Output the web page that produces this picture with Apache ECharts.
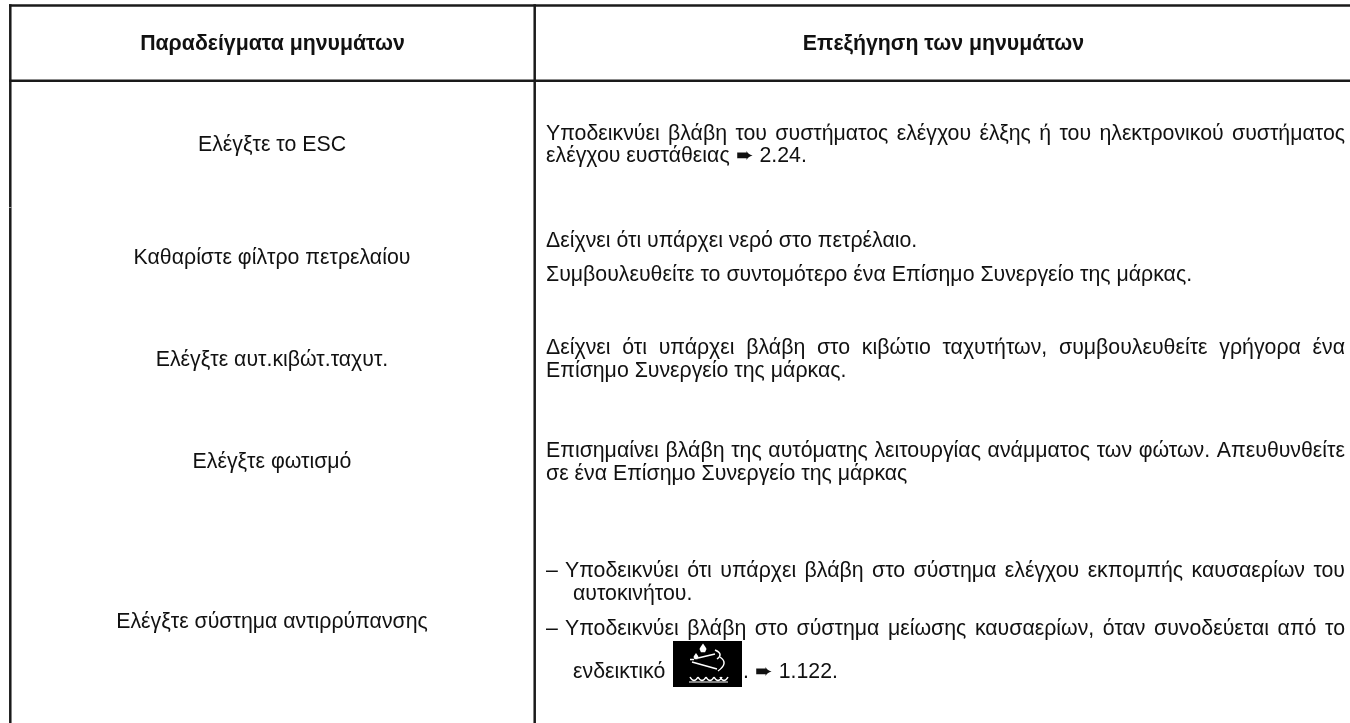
<!DOCTYPE html>
<html>
<head>
<meta charset="utf-8">
<style>html,body{margin:0;padding:0;background:#fff}#main{width:1350px;height:723px}</style>
<script src="https://cdn.jsdelivr.net/npm/echarts@6/dist/echarts.min.js"></script>
</head>
<body>
<div id="main"></div>
<script>
var headers = ['Παραδείγματα μηνυμάτων', 'Επεξήγηση των μηνυμάτων'];
var messages = ['Ελέγξτε το ESC', 'Καθαρίστε φίλτρο πετρελαίου', 'Ελέγξτε αυτ.κιβώτ.ταχυτ.', 'Ελέγξτε φωτισμό', 'Ελέγξτε σύστημα αντιρρύπανσης'];
var explain = [
	'Υποδεικνύει βλάβη του συστήματος ελέγχου έλξης ή του ηλεκτρονικού συστήματος',
	'ελέγχου ευστάθειας ➨ 2.24.',
	'Δείχνει ότι υπάρχει νερό στο πετρέλαιο.',
	'Συμβουλευθείτε το συντομότερο ένα Επίσημο Συνεργείο της μάρκας.',
	'Δείχνει ότι υπάρχει βλάβη στο κιβώτιο ταχυτήτων, συμβουλευθείτε γρήγορα ένα',
	'Επίσημο Συνεργείο της μάρκας.',
	'Επισημαίνει βλάβη της αυτόματης λειτουργίας ανάμματος των φώτων. Απευθυνθείτε',
	'σε ένα Επίσημο Συνεργείο της μάρκας',
	'Υποδεικνύει ότι υπάρχει βλάβη στο σύστημα ελέγχου εκπομπής καυσαερίων του',
	'αυτοκινήτου.',
	'Υποδεικνύει βλάβη στο σύστημα μείωσης καυσαερίων, όταν συνοδεύεται από το',
	'ενδεικτικό',
	'. ➨ 1.122.'
];

var FONT = '"Liberation Sans", Arial, sans-serif';
var SIZE = 21.3;
var messageY = [145, 258.5, 360, 462.5, 622];
// x, y, justified
var explainPos = [
	[546, 134.5, 1], [546, 156, 0],
	[546, 241, 0], [546, 275.5, 0],
	[546, 348.5, 1], [546, 371, 0],
	[546, 451, 1], [546, 474.5, 0],
	[565, 571, 1], [573, 594.5, 0],
	[565, 629.5, 1], [573, 672, 0], [743, 672, 0]
];
var dashY = [571, 629.5];
var RIGHT_EDGE = 1345;

var chart = echarts.init(document.getElementById('main'), null, { renderer: 'canvas' });
var ctx = document.createElement('canvas').getContext('2d');
ctx.font = SIZE + 'px ' + FONT;

function txt(x, y, s, opt) {
	opt = opt || {};
	return {
		type: 'text',
		x: x,
		y: y,
		style: {
			text: s,
			fill: opt.fill || '#111',
			font: (opt.bold ? 'bold ' : '') + SIZE + 'px ' + FONT,
			align: opt.align || 'left',
			verticalAlign: 'middle'
		}
	};
}

function line(x1, y1, x2, y2, w, color) {
	return {
		type: 'line',
		shape: { x1: x1, y1: y1, x2: x2, y2: y2 },
		style: { stroke: color || '#1a1a1a', lineWidth: w }
	};
}

var els = [];
els.push(line(9, 5.5, 1350, 5.5, 2.5));
els.push(line(9, 80.7, 1350, 80.7, 2.5));
els.push(line(10.3, 4.3, 10.3, 723, 2.5));
els.push(line(534.7, 4.3, 534.7, 723, 2.5));
els.push(line(9, 207.5, 12, 207.5, 1, '#999'));

els.push(txt(272.5, 44, headers[0], { bold: true, align: 'center' }));
els.push(txt(943.5, 44, headers[1], { bold: true, align: 'center' }));

messages.forEach(function (m, i) {
	els.push(txt(272, messageY[i], m, { align: 'center' }));
});

dashY.forEach(function (y) {
	els.push(txt(546, y, '–'));
});

// justified lines get one text per word
explain.forEach(function (s, i) {
	var p = explainPos[i];
	if (!p[2]) {
		els.push(txt(p[0], p[1], s));
		return;
	}
	var words = s.split(' ');
	var total = 0;
	words.forEach(function (w) { total += ctx.measureText(w).width; });
	var gap = (RIGHT_EDGE - p[0] - total) / (words.length - 1);
	var x = p[0];
	words.forEach(function (w) {
		els.push(txt(x, p[1], w));
		x += ctx.measureText(w).width + gap;
	});
});

// warning lamp icon
function curve(x1, y1, cx, cy, x2, y2, w) {
	return {
		type: 'bezierCurve',
		shape: { x1: x1, y1: y1, x2: x2, y2: y2, cpx1: cx, cpy1: cy },
		style: { stroke: '#fff', lineWidth: w || 1.5, fill: null }
	};
}
function drop(x, y, r) {
	return {
		type: 'polygon',
		shape: { points: [[x, y - r * 1.6], [x + r * 0.7, y - r * 0.6], [x + r, y], [x + r * 0.6, y + r * 0.9], [x - r * 0.6, y + r * 0.9], [x - r, y], [x - r * 0.7, y - r * 0.6]] },
		style: { fill: '#fff' }
	};
}
els.push({ type: 'rect', shape: { x: 673, y: 641, width: 69, height: 46 }, style: { fill: '#000' } });
els.push(drop(703, 649, 3.5));
els.push(drop(696, 657, 2.5));
els.push(line(690, 659.5, 694, 659.5, 1.5, '#fff'));
els.push(line(698, 658, 715, 654, 1.5, '#fff'));
els.push(line(692, 662, 717, 669, 1.5, '#fff'));
els.push(curve(715, 650, 724, 654, 717, 659));
els.push(curve(720, 657, 729, 663, 718, 671));
els.push(line(689, 682, 728, 682, 1.2, '#fff'));
[690, 698, 706, 714, 720].forEach(function (x) {
	els.push(curve(x, 677, x + 4, 684, x + 8, 677));
});

chart.setOption({
	backgroundColor: '#fff',
	animation: false,
	graphic: { elements: els }
});
</script>
</body>
</html>
